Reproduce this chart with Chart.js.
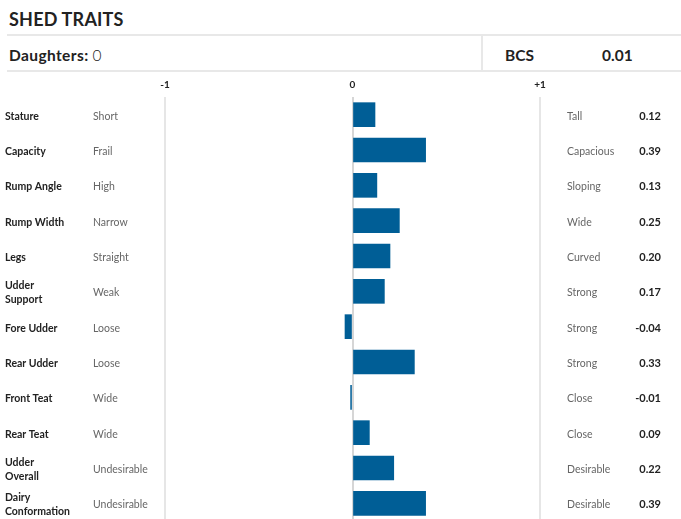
<!DOCTYPE html>
<html>
<head>
<meta charset="utf-8">
<script src="https://cdn.jsdelivr.net/npm/chart.js@4"></script>
<style>
  body { margin: 0; background: #fff; font-family: Lato, "Open Sans", sans-serif; color: #222; }
  #wrap { position: relative; width: 681px; height: 519px; overflow: hidden; }
  .title { position: absolute; left: 9px; top: 8px; font-size: 18px; font-weight: 700; letter-spacing: 0.2px; }
  .hline { position: absolute; left: 7px; right: 0; height: 2px; background: #e8e8e8; }
  .vline { position: absolute; left: 481px; top: 36px; width: 2px; height: 35px; background: #e8e8e8; }
  .hdr { position: absolute; top: 46px; font-size: 15.5px; }
  .hdr b { font-weight: 700; }
  .light { font-weight: 300; }
  #chartBox { position: absolute; left: 0; top: 72px; width: 681px; height: 449px; }
</style>
</head>
<body>
<div id="wrap">
  <div class="title">SHED TRAITS</div>
  <div class="hline" style="top:34px"></div>
  <div class="hdr" style="left:9px"><b style="letter-spacing:0.4px">Daughters:</b> <span class="light">0</span></div>
  <div class="vline"></div>
  <div class="hdr" style="left:505px"><b>BCS</b></div>
  <div class="hdr" style="left:602px"><b>0.01</b></div>
  <div class="hline" style="top:70px"></div>
  <div id="chartBox"><canvas id="myChart"></canvas></div>
</div>
<script>
var traits = ['Stature', 'Capacity', 'Rump Angle', 'Rump Width', 'Legs', ['Udder', 'Support'],
              'Fore Udder', 'Rear Udder', 'Front Teat', 'Rear Teat', ['Udder', 'Overall'], ['Dairy', 'Conformation']];
var lowLabels = ['Short', 'Frail', 'High', 'Narrow', 'Straight', 'Weak',
                 'Loose', 'Loose', 'Wide', 'Wide', 'Undesirable', 'Undesirable'];
var highLabels = ['Tall', 'Capacious', 'Sloping', 'Wide', 'Curved', 'Strong',
                  'Strong', 'Strong', 'Close', 'Close', 'Desirable', 'Desirable'];
var values = [0.12, 0.39, 0.13, 0.25, 0.20, 0.17, -0.04, 0.33, -0.01, 0.09, 0.22, 0.39];

var FONT = 'Lato, "Open Sans", sans-serif';

// draws the side columns next to each bar row
var sideLabels = {
    id: 'sideLabels',
    afterDraw: function(chart) {
        var c = chart.ctx;
        var yScale = chart.scales.y;
        c.save();
        c.textBaseline = 'middle';
        for (var i = 0; i < traits.length; i++) {
            var y = yScale.getPixelForValue(i) + 1.5;
            var name = traits[i];
            c.fillStyle = '#222';
            c.font = 'bold 10.5px ' + FONT;
            c.textAlign = 'left';
            if (Array.isArray(name)) {
                c.fillText(name[0], 5, y - 7);
                c.fillText(name[1], 5, y + 7);
            } else {
                c.fillText(name, 5, y);
            }
            c.font = '10.5px ' + FONT;
            c.fillStyle = '#666';
            c.fillText(lowLabels[i], 93, y);
            c.fillText(highLabels[i], 567, y);
            c.font = 'bold 11px ' + FONT;
            c.fillStyle = '#222';
            c.textAlign = 'right';
            c.fillText(values[i].toFixed(2), 661, y);
        }
        c.restore();
    }
};

var ctx = document.getElementById('myChart').getContext('2d');
var myChart = new Chart(ctx, {
    type: 'bar',
    data: {
        labels: traits,
        datasets: [{
            data: values,
            backgroundColor: '#005e96',
            barThickness: 24
        }]
    },
    plugins: [sideLabels],
    options: {
        indexAxis: 'y',
        responsive: true,
        maintainAspectRatio: false,
        animation: false,
        layout: { padding: { left: 165, right: 141, top: 0, bottom: 0 } },
        plugins: { legend: { display: false }, tooltip: { enabled: false } },
        scales: {
            x: {
                position: 'top',
                min: -1,
                max: 1,
                ticks: {
                    stepSize: 1,
                    padding: 6,
                    color: '#222',
                    font: { family: FONT, size: 10, weight: 'bold' },
                    callback: function(v) { return v > 0 ? '+' + v : v; }
                },
                grid: {
                    drawTicks: false,
                    lineWidth: 2,
                    color: function(c) { return c.tick && c.tick.value === 0 ? '#d6d6d6' : '#e6e6e6'; }
                },
                border: { display: false },
                afterFit: function(scale) { scale.height = 25; }
            },
            y: {
                display: false
            }
        }
    }
});
</script>
</body>
</html>
